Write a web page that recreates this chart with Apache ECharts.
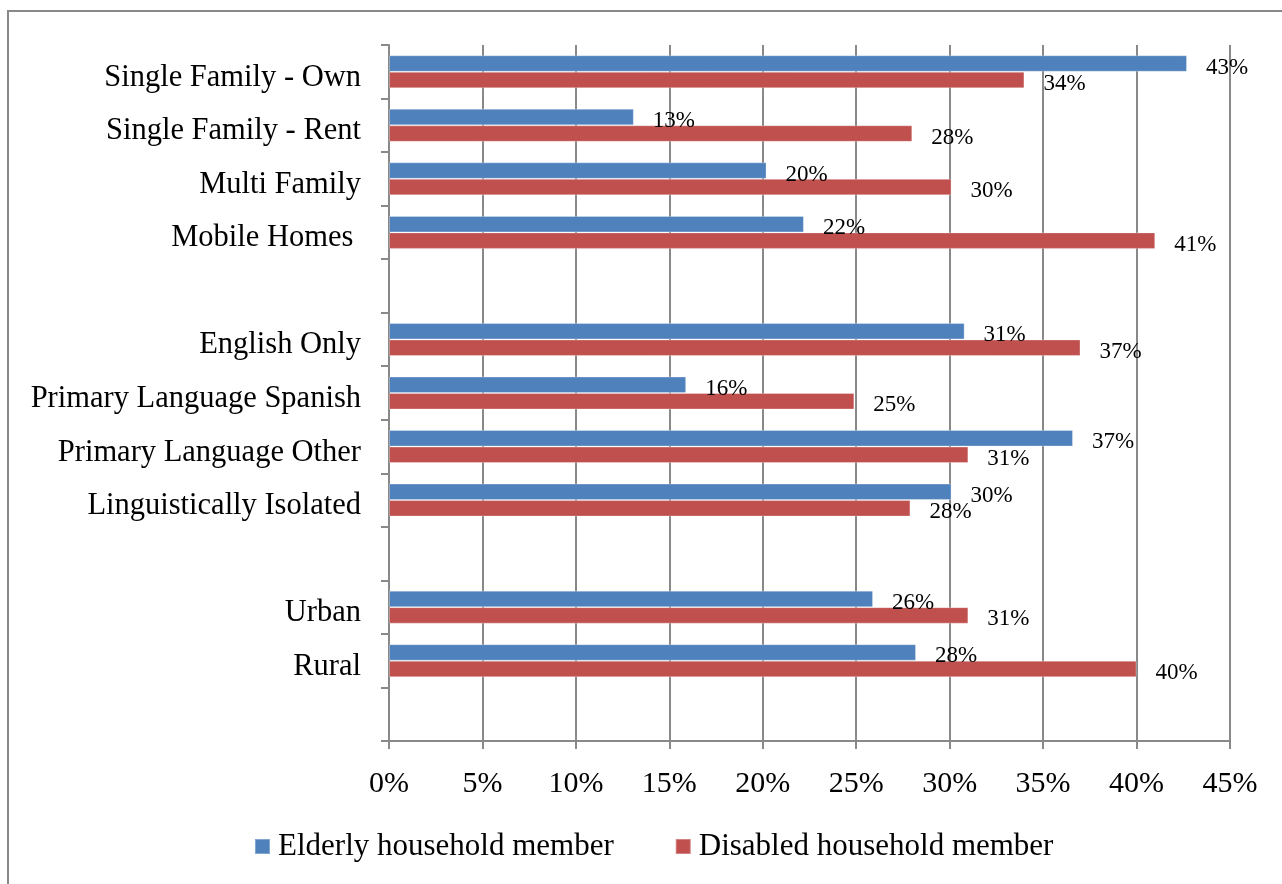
<!DOCTYPE html>
<html>
<head>
<meta charset="utf-8">
<title>Household members by housing type, language and area</title>
<script src="https://cdn.jsdelivr.net/npm/echarts@6/dist/echarts.min.js"></script>
<style>
  html, body { margin: 0; padding: 0; background: #fff; }
  #chart { width: 1282px; height: 884px; }
</style>
</head>
<body>
<div id="chart"></div>
<script>
// Category rows, top to bottom; empty strings leave spacer rows between groups.
const categories = [
  'Single Family - Own', 'Single Family - Rent', 'Multi Family', 'Mobile Homes ',
  '',
  'English Only', 'Primary Language Spanish', 'Primary Language Other', 'Linguistically Isolated',
  '',
  'Urban', 'Rural',
  ''
];

// Share of households (%) with an elderly member
const elderly = [42.7, 13.1, 20.2, 22.2, null, 30.8, 15.9, 36.6, 30.1, null, 25.9, 28.2, null];

// Share of households (%) with a disabled member
const disabled = [34.0, 28.0, 30.1, 41.0, null, 37.0, 24.9, 31.0, 27.9, null, 31.0, 40.0, null];

const seriesNames = ['Elderly household member', 'Disabled household member'];
const seriesColors = ['#4F81BD', '#C0504D'];

const FONT = '"Liberation Serif", "DejaVu Serif", serif';
const GRAY = '#898989';

const chart = echarts.init(document.getElementById('chart'), null, { renderer: 'canvas' });

function barSeries(name, data, color) {
  return {
    name: name,
    type: 'bar',
    data: data,
    barWidth: 16.5,
    barGap: '0%',
    itemStyle: { color: color, borderColor: 'rgba(255,255,255,0.3)', borderWidth: 1 },
    label: {
      show: true,
      position: 'right',
      distance: 19,
      offset: [0, 4],
      fontFamily: FONT,
      fontSize: 23,
      color: '#000',
      formatter: p => (p.value == null ? '' : Math.round(p.value) + '%')
    }
  };
}

chart.setOption({
  animation: false,
  backgroundColor: '#fff',
  graphic: [{
    type: 'rect',
    shape: { x: 8, y: 11, width: 1300, height: 900 },
    style: { fill: 'none', stroke: GRAY, lineWidth: 2 },
    silent: true
  }],
  grid: { left: 389, right: 52, top: 45, bottom: 143, containLabel: false },
  legend: {
    bottom: 17,
    left: 249,
    itemWidth: 15,
    itemHeight: 15,
    itemGap: 61,
    icon: 'rect',
    textStyle: { fontFamily: FONT, fontSize: 31, color: '#000', padding: [0, 0, 0, 3] },
    data: seriesNames
  },
  xAxis: {
    type: 'value',
    min: 0,
    max: 45,
    interval: 5,
    axisLine: { show: true, lineStyle: { color: GRAY, width: 2 } },
    axisTick: { show: true, length: 8, lineStyle: { color: GRAY, width: 2 } },
    splitLine: { show: true, lineStyle: { color: GRAY, width: 2 } },
    axisLabel: {
      margin: 28,
      fontFamily: FONT,
      fontSize: 30,
      color: '#000',
      formatter: v => v + '%'
    }
  },
  yAxis: {
    type: 'category',
    inverse: true,
    data: categories,
    axisLine: { show: true, lineStyle: { color: GRAY, width: 2 } },
    axisTick: { show: true, length: 8, alignWithLabel: false, lineStyle: { color: GRAY, width: 2 } },
    axisLabel: {
      margin: 28,
      fontFamily: FONT,
      fontSize: 30.5,
      color: '#000',
      interval: 0,
      verticalAlign: 'top',
      lineHeight: 12
    }
  },
  series: [
    barSeries(seriesNames[0], elderly, seriesColors[0]),
    barSeries(seriesNames[1], disabled, seriesColors[1])
  ]
});
</script>
</body>
</html>
